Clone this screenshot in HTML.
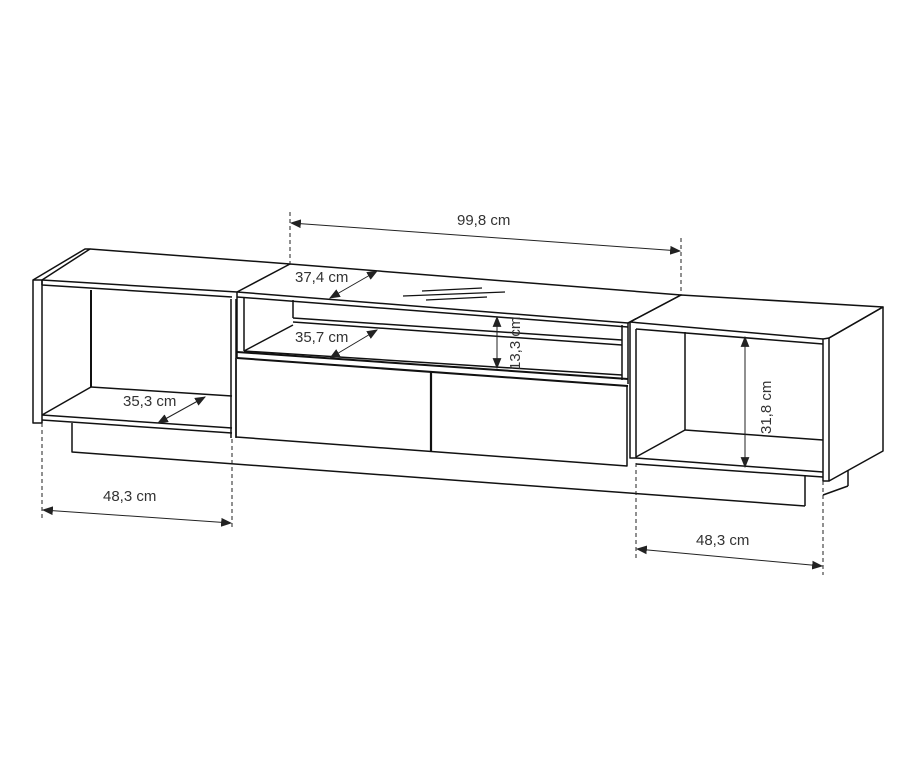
<!DOCTYPE html>
<html><head><meta charset="utf-8"><style>
html,body{margin:0;padding:0;background:#fff;}
svg{display:block}
text{font-family:"Liberation Sans",sans-serif;font-size:15px;fill:#333;}
</style></head><body>
<svg width="905" height="764" viewBox="0 0 905 764" xmlns="http://www.w3.org/2000/svg">
<defs>
<marker id="a" viewBox="0 0 10 10" refX="9" refY="5" markerWidth="11" markerHeight="11" orient="auto-start-reverse" markerUnits="userSpaceOnUse"><path d="M0,1 L10,5 L0,9 z" fill="#222"/></marker>
</defs>
<g fill="none" stroke="#111" stroke-width="1.5" stroke-linejoin="round">
<!-- LEFT UNIT -->
<path d="M33,280 L33,423 L42,423 L42,280 Z" fill="#fff"/>
<path d="M33,280 L85,249 L90,249 L42,280"/>
<path d="M90,249 L290,264"/>
<path d="M42,280 L237,292"/>
<path d="M42,285 L232,297 M42,280 L42,285"/>
<path d="M91,290 L91,387" stroke-width="2"/>
<path d="M91,387 L232,396"/>
<path d="M42,415 L91,387"/>
<path d="M42,415 L232,428"/>
<path d="M42,420 L232,433"/>
<path d="M231,299 L231,438 M236,299 L236,438"/>
<path d="M72,423 L72,452 L805,506"/>
<!-- MIDDLE UNIT -->
<path d="M237,292 L290,264 L681,295 L628,323"/>
<path d="M237,292 L628,323"/>
<path d="M237,297 L628,327"/>
<path d="M237,292 L237,358 M244,297 L244,351"/>
<path d="M293,300 L293,318"/>
<path d="M293,318 L622,340 M293,322 L622,345"/>
<path d="M244,351 L293,325"/>
<path d="M244,351 L622,375"/>
<path d="M622,325 L622,380 M628,323 L628,384"/>
<path d="M237,352 L628,379 M237,358 L628,386" stroke-width="2"/>
<path d="M236,358 L236,437 L627,466 L627,386"/>
<path d="M431,372 L431,451" stroke-width="2.2"/>
<path d="M403,296 L505,292 M422,291 L482,288 M426,300 L487,297" stroke-width="1.3"/>
<!-- RIGHT UNIT -->
<path d="M628,323 L681,295 L883,307 L829,338"/>
<path d="M630,322 L823,339"/>
<path d="M636,329 L823,344"/>
<path d="M630,322 L630,458 L636,458 L636,329"/>
<path d="M685,332 L685,430"/>
<path d="M685,430 L823,440"/>
<path d="M636,457 L685,430"/>
<path d="M636,458 L823,472 M636,464 L823,477"/>
<path d="M823,339 L823,481 L829,481 L829,338 Z" fill="#fff"/>
<path d="M829,338 L883,307 L883,451 L829,481"/>
<path d="M805,475 L805,506 M848,470 L848,486 M823,495 L848,486"/>
</g>
<!-- dimension lines -->
<g stroke="#222" stroke-width="1" fill="none" stroke-dasharray="4,3">
<path d="M290,212 L290,264 M681,238 L681,295"/>
<path d="M42,423 L42,518 M232,439 L232,530"/>
<path d="M636,463 L636,560 M823,481 L823,575"/>
</g>
<g stroke="#222" stroke-width="1" fill="none" marker-start="url(#a)" marker-end="url(#a)">
<path d="M291,223 L680,251"/>
<path d="M43,510 L231,523"/>
<path d="M637,549 L822,566"/>
<path d="M330,298 L377,271"/>
<path d="M330,358 L377,330"/>
<path d="M158,423 L205,397"/>
<path d="M497,317 L497,368"/>
<path d="M745,337 L745,467"/>
</g>
<text x="457" y="225">99,8 cm</text>
<text x="295" y="282">37,4 cm</text>
<text x="295" y="342">35,7 cm</text>
<text x="123" y="406">35,3 cm</text>
<text x="103" y="501">48,3 cm</text>
<text x="696" y="545">48,3 cm</text>
<text transform="translate(520,370) rotate(-90)">13,3 cm</text>
<text transform="translate(771,434) rotate(-90)">31,8 cm</text>
</svg>
</body></html>
